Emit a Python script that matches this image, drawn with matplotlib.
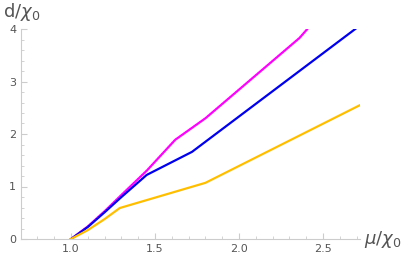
import matplotlib
matplotlib.use("Agg")
import matplotlib.pyplot as plt
from matplotlib.ticker import MultipleLocator

mu_magenta = [1.0, 1.1, 1.2, 1.3, 1.45, 1.62, 1.80, 2.36, 2.42]
d_magenta = [0.0, 0.24, 0.53, 0.84, 1.30, 1.89, 2.30, 3.83, 4.05]

mu_blue = [1.0, 1.1, 1.2, 1.3, 1.45, 1.72, 2.70]
d_blue = [0.0, 0.23, 0.51, 0.80, 1.22, 1.66, 4.02]

mu_yellow = [1.0, 1.1, 1.2, 1.29, 1.80, 2.72]
d_yellow = [0.0, 0.17, 0.38, 0.59, 1.07, 2.55]

xticks = [1.0, 1.5, 2.0, 2.5]
yticks = [0, 1, 2, 3, 4]

fig = plt.figure(figsize=(4.09, 2.56), dpi=100)
ax = fig.add_axes([21/409, 17/256, (360-21)/409, (239-29)/256])

ax.plot(mu_magenta, d_magenta, color="#ff00ff", lw=1.6)
ax.plot(mu_blue, d_blue, color="#0000ee", lw=1.6)
ax.plot(mu_yellow, d_yellow, color="#ffbf00", lw=1.6)

ax.set_xlim(0.702, 2.72)
ax.set_ylim(0, 4)
ax.set_xticks(xticks)
ax.set_xticklabels([f"{t:.1f}" for t in xticks])
ax.set_yticks(yticks)
ax.set_yticklabels([str(t) for t in yticks])
ax.xaxis.set_minor_locator(MultipleLocator(0.1))
ax.yaxis.set_minor_locator(MultipleLocator(0.2))

for s in ["top", "right"]:
    ax.spines[s].set_visible(False)
for s in ["left", "bottom"]:
    ax.spines[s].set_color("#cccccc")
    ax.spines[s].set_linewidth(0.8)

ax.tick_params(which="both", direction="in", colors="#cccccc", labelcolor="#555555", labelsize=8)
ax.tick_params(which="major", length=4)
ax.tick_params(which="minor", length=2)

fig.text(3/409, 1 - 12/256, r"d/$\chi_0$", fontsize=13, color="#555555", ha="left", va="center")
fig.text(364/409, 1 - 240/256, r"$\mu$/$\chi_0$", fontsize=13, color="#555555", ha="left", va="center")

fig.savefig("out.png", dpi=100)
